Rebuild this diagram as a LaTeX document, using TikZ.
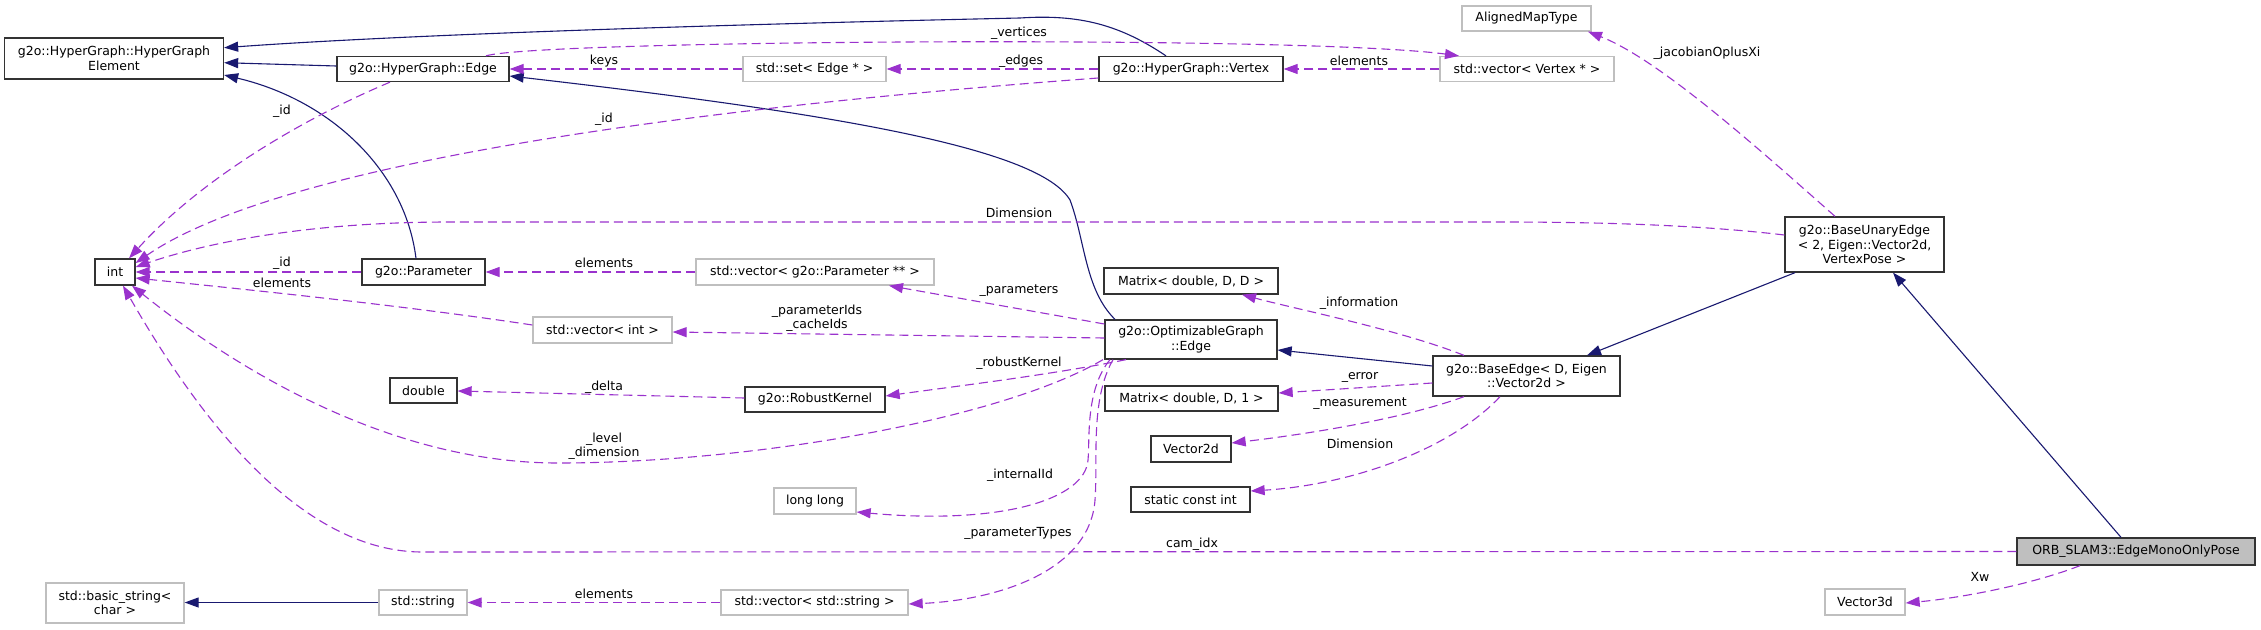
\documentclass[tikz,border=0pt]{standalone}
\usepackage{fontspec}
\setmainfont{DejaVu Sans}
\usetikzlibrary{arrows.meta}
\definecolor{navy}{RGB}{25,25,112}
\definecolor{orchid}{RGB}{154,50,205}
\definecolor{lgray}{RGB}{191,191,191}
\newcommand{\dxfont}{\fontsize{12.5}{14.5}\selectfont}
\begin{document}
\begin{tikzpicture}[x=1pt,y=-1pt,
 box/.style={draw=black!80, fill=white, line width=1.3pt, inner sep=0pt, align=center, font=\dxfont},
 gbox/.style={box, draw=lgray},
 sbox/.style={box, fill=lgray},
 inh/.style={draw=navy, line width=1.1pt, -{Triangle[length=14pt,width=10pt]}},
 use/.style={draw=orchid, line width=1.1pt, dash pattern=on 9pt off 5pt, -{Triangle[length=14pt,width=10pt]}},
 lbl/.style={font=\dxfont, inner sep=0pt, align=center, text=black}
]
\useasboundingbox (0,0) rectangle (2261,629);
\fill[white] (0,0) rectangle (2261,629);

% nodes
\node[box, minimum width=219pt, minimum height=41pt] (hge) at (114,58.5) {g2o::HyperGraph::HyperGraph\\Element};
\node[box, minimum width=172pt, minimum height=25pt] (hgedge) at (423,69) {g2o::HyperGraph::Edge};
\node[gbox, minimum width=143pt, minimum height=25pt] (stdset) at (814.5,69) {std::set< Edge * >};
\node[box, minimum width=184pt, minimum height=25pt] (vertex) at (1191,69) {g2o::HyperGraph::Vertex};
\node[gbox, minimum width=174pt, minimum height=25pt] (vecv) at (1527,69) {std::vector< Vertex * >};
\node[gbox, minimum width=129pt, minimum height=25pt] (amt) at (1526.5,18.5) {AlignedMapType};
\node[box, minimum width=159pt, minimum height=55pt] (bue) at (1864.5,244.5) {g2o::BaseUnaryEdge\\< 2, Eigen::Vector2d,\\ VertexPose >};
\node[box, minimum width=40pt, minimum height=26pt] (int) at (115,272) {int};
\node[box, minimum width=123pt, minimum height=26pt] (param) at (423.5,272) {g2o::Parameter};
\node[gbox, minimum width=238pt, minimum height=26pt] (vecp) at (815,272) {std::vector< g2o::Parameter ** >};
\node[box, minimum width=174pt, minimum height=26pt] (mdd) at (1191,281) {Matrix< double, D, D >};
\node[gbox, minimum width=139pt, minimum height=26pt] (veci) at (602.5,330) {std::vector< int >};
\node[box, minimum width=172pt, minimum height=39pt] (oge) at (1191,339.5) {g2o::OptimizableGraph\\::Edge};
\node[box, minimum width=187pt, minimum height=40pt] (bedge) at (1526.5,376) {g2o::BaseEdge< D, Eigen\\::Vector2d >};
\node[box, minimum width=67pt, minimum height=25pt] (dbl) at (423.5,390.5) {double};
\node[box, minimum width=140pt, minimum height=25pt] (rk) at (815,399.5) {g2o::RobustKernel};
\node[box, minimum width=173pt, minimum height=25pt] (md1) at (1191.5,398.5) {Matrix< double, D, 1 >};
\node[box, minimum width=80pt, minimum height=26pt] (v2d) at (1191,449) {Vector2d};
\node[box, minimum width=119pt, minimum height=25pt] (sci) at (1190.5,499.5) {static const int};
\node[gbox, minimum width=82pt, minimum height=26pt] (ll) at (815,501) {long long};
\node[gbox, minimum width=138pt, minimum height=40pt] (bstr) at (115,603) {std::basic\_string<\\ char >};
\node[gbox, minimum width=88pt, minimum height=25pt] (sstr) at (423,602.5) {std::string};
\node[gbox, minimum width=187pt, minimum height=25pt] (vecs) at (814.5,602.5) {std::vector< std::string >};
\node[sbox, minimum width=238pt, minimum height=27pt] (emop) at (2136,551.5) {ORB\_SLAM3::EdgeMonoOnlyPose};
\node[gbox, minimum width=80pt, minimum height=26pt] (v3d) at (1865,602) {Vector3d};

% inheritance
\draw[inh] (vertex.north -| 1166,0) .. controls (1120,25) and (1080,14) .. (1020,18) .. controls (700,25) and (400,35) .. (hge.east |- 0,47.7);
\draw[inh] (hgedge.west |- 0,66) -- (hge.east |- 0,62.7);
\draw[inh] (param.north -| 416,0) .. controls (405,170) and (330,100) .. (hge.east |- 0,75);
\draw[inh] (oge.north -| 1115,0) .. controls (1085,290) and (1085,240) .. (1070,200) .. controls (1040,150) and (850,115) .. (hgedge.east |- 0,76);
\draw[inh] (bedge.west |- 0,366) -- (oge.east |- 0,350);
\draw[inh] (bue.south -| 1795,0) -- (bedge.north -| 1587,0);
\draw[inh] (emop.north -| 2121,0) -- (bue.south -| 1893,0);
\draw[inh] (sstr.west) -- (bstr.east |- sstr.west);

% usage
\draw[use] (hgedge.north -| 486,0) .. controls (540,40) and (1300,35) .. (vecv.north -| 1459,0) node[lbl] at (1019,33) {\_vertices};
\draw[use] (stdset.west) -- (hgedge.east |- stdset.west) node[lbl] at (604,61) {keys};
\draw[use] (vertex.west) -- (stdset.east) node[lbl] at (1021,61) {\_edges};
\draw[use] (vecv.west) -- (vertex.east) node[lbl] at (1359,61) {elements};
\draw[use] (hgedge.south -| 390,0) .. controls (300,120) and (200,180) .. (int.north -| 129,0) node[lbl] at (282,111) {\_id};
\draw[use] (vertex.west |- 0,78) .. controls (800,100) and (300,150) .. (int.east |- 0,263) node[lbl] at (604,119) {\_id};
\draw[use] (bue.west |- 0,235) .. controls (1700,225) and (1600,222) .. (1500,222) -- (450,222) .. controls (300,222) and (200,245) .. (int.east |- 0,267) node[lbl] at (1019,213) {Dimension};
\draw[use] (param.west) -- (int.east) node[lbl] at (282,263) {\_id};
\draw[use] (veci.west |- 0,325) .. controls (400,305) and (250,290) .. (int.east |- 0,278) node[lbl] at (282,283) {elements};
\draw[use] (vecp.west) -- (param.east) node[lbl] at (604,263) {elements};
\draw[use] (oge.west |- 0,324) -- (vecp.south -| 889,0) node[lbl] at (1019,291) {\_parameters};
\draw[use] (oge.west |- 0,338) -- (veci.east |- 0,332) node[lbl] at (817,318) {\_parameterIds\\\_cacheIds};
\draw[use] (oge.south -| 1126,0) .. controls (1050,375) and (950,387) .. (rk.east |- 0,396) node[lbl] at (1019,363) {\_robustKernel};
\draw[use] (rk.west |- 0,398) -- (dbl.east |- 0,391) node[lbl] at (604,387) {\_delta};
\draw[use] (oge.south -| 1103,0) .. controls (1000,420) and (750,463) .. (558,463) .. controls (400,463) and (250,380) .. (int.south -| 132,0) node[lbl] at (604,446) {\_level\\\_dimension};
\draw[use] (oge.south -| 1110,0) .. controls (1085,390) and (1090,440) .. (1088,460) .. controls (1085,500) and (1000,525) .. (ll.east |- 0,512) node[lbl] at (1020,475) {\_internalId};
\draw[use] (oge.south -| 1113,0) .. controls (1090,400) and (1098,460) .. (1095,500) .. controls (1090,570) and (1000,600) .. (vecs.east |- 0,604) node[lbl] at (1018,533) {\_parameterTypes};
\draw[use] (vecs.west) -- (sstr.east) node[lbl] at (604,594) {elements};
\draw[use] (bedge.north -| 1464,0) .. controls (1400,330) and (1300,310) .. (mdd.south -| 1242,0) node[lbl] at (1359,303) {\_information};
\draw[use] (bedge.west |- 0,383) -- (md1.east |- 0,393) node[lbl] at (1360,377) {\_error};
\draw[use] (bedge.south -| 1464,0) .. controls (1400,420) and (1300,435) .. (v2d.east |- 0,443) node[lbl] at (1360,404) {\_measurement};
\draw[use] (bedge.south -| 1500,0) .. controls (1450,450) and (1350,485) .. (sci.east |- 0,491) node[lbl] at (1360,444) {Dimension};
\draw[use] (bue.north -| 1835,0) .. controls (1760,150) and (1660,60) .. (amt.south -| 1588,0) node[lbl] at (1707,53) {\_jacobianOplusXi};
\draw[use] (emop.west) -- (420,552) .. controls (300,550) and (200,420) .. (int.south -| 123,0) node[lbl] at (1192,544) {cam\_idx};
\draw[use] (emop.south -| 2080,0) .. controls (2030,585) and (1960,598) .. (v3d.east |- 0,603) node[lbl] at (1980,577) {Xw};
\end{tikzpicture}
\end{document}
